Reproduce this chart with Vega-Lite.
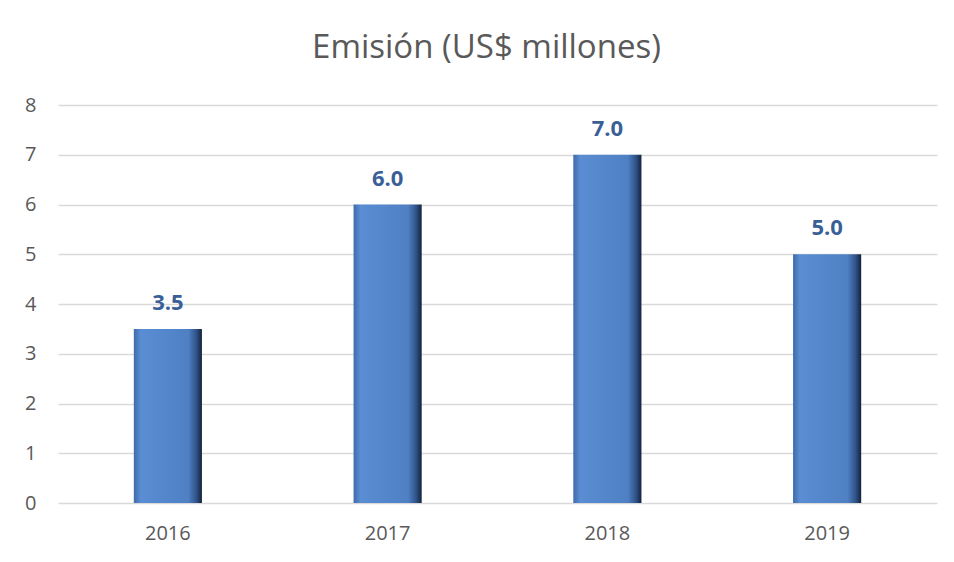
{
  "$schema": "https://vega.github.io/schema/vega-lite/v6.json",
  "width": 879,
  "height": 398,
  "autosize": {"type": "none"},
  "padding": {"left": 58, "top": 105, "right": 17, "bottom": 59},
  "background": "white",
  "title": {
    "text": "Emisión (US$ millones)",
    "font": "Open Sans",
    "fontSize": 33,
    "fontWeight": "normal",
    "color": "#595959",
    "anchor": "middle",
    "frame": "group",
    "dx": -11,
    "offset": 30
  },
  "data": {
    "values": [
      {"year": "2016", "value": 3.5},
      {"year": "2017", "value": 6.0},
      {"year": "2018", "value": 7.0},
      {"year": "2019", "value": 5.0}
    ]
  },
  "config": {
    "view": {"stroke": null},
    "axis": {
      "labelFont": "Open Sans",
      "labelFontSize": 20,
      "labelColor": "#595959",
      "gridColor": "#d9d9d9",
      "gridWidth": 1.3,
      "ticks": false,
      "title": null
    }
  },
  "encoding": {
    "x": {
      "field": "year",
      "type": "nominal",
      "scale": {"paddingInner": 0.69, "paddingOuter": 0.345},
      "axis": {"labelAngle": 0, "labelPadding": 20, "domain": false, "grid": false}
    },
    "y": {
      "field": "value",
      "type": "quantitative",
      "scale": {"domain": [0, 8]},
      "axis": {"values": [0, 1, 2, 3, 4, 5, 6, 7, 8], "labelOverlap": false, "domain": false, "labelPadding": 22, "grid": true}
    }
  },
  "layer": [
    {
      "mark": {
        "type": "bar",
        "fill": {
          "gradient": "linear",
          "x1": 0, "x2": 1, "y1": 0, "y2": 0,
          "stops": [
            {"offset": 0, "color": "#3f6aa8"},
            {"offset": 0.1, "color": "#5a8dd3"},
            {"offset": 0.8, "color": "#4f80c4"},
            {"offset": 0.92, "color": "#2f5287"},
            {"offset": 1, "color": "#13223a"}
          ]
        }
      }
    },
    {
      "mark": {
        "type": "text",
        "baseline": "alphabetic",
        "dy": -19,
        "font": "Open Sans",
        "fontSize": 22,
        "fontWeight": "bold",
        "color": "#3a5f97"
      },
      "encoding": {
        "text": {"field": "value", "type": "quantitative", "format": ".1f"}
      }
    }
  ]
}
